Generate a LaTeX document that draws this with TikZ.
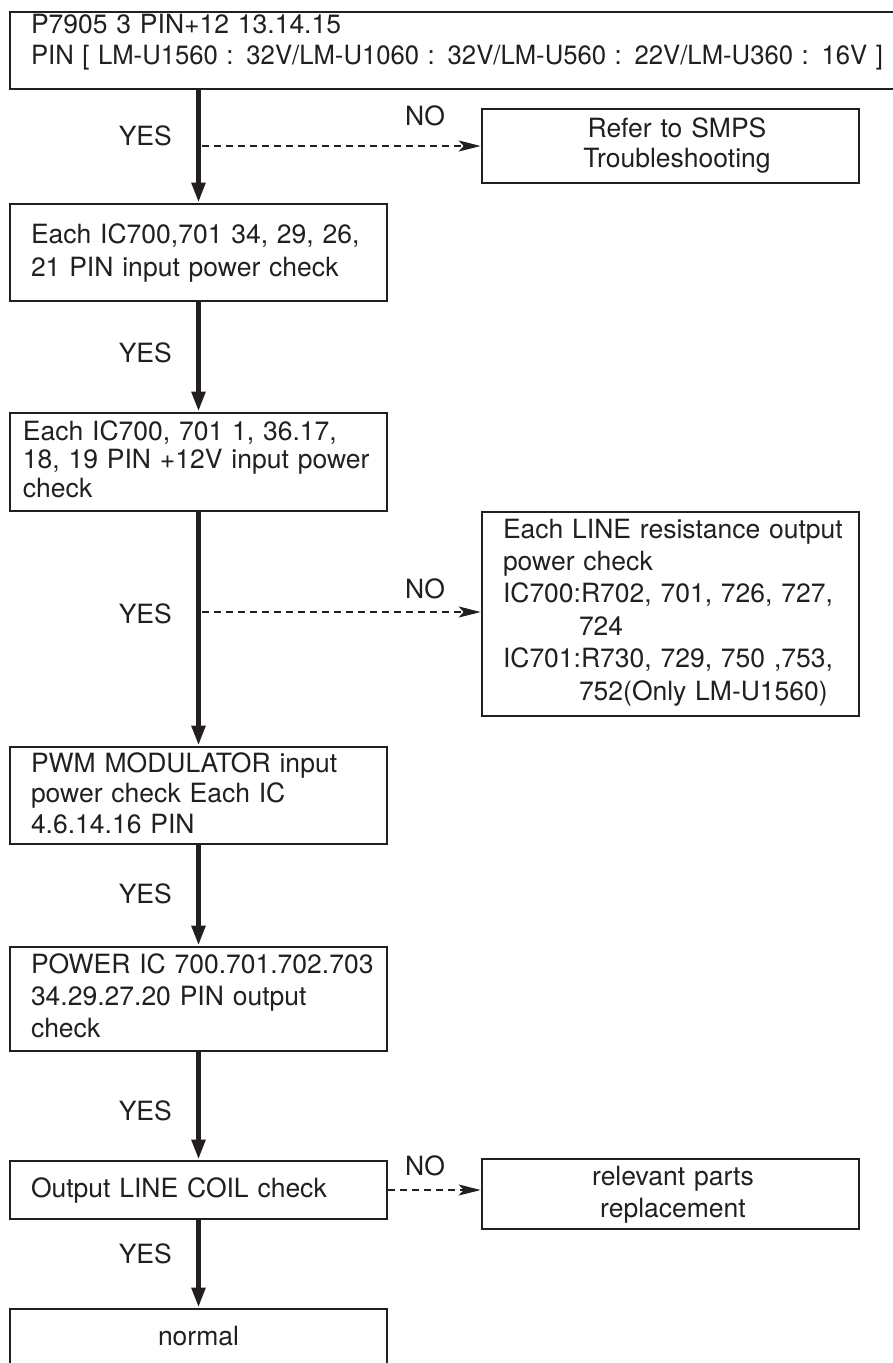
\documentclass[tikz,border=0pt]{standalone}
\usepackage{graphicx}
\usepackage{fontspec}
\setmainfont{TeX Gyre Heros}
\usetikzlibrary{arrows.meta}
\definecolor{ink}{HTML}{231F20}
\newcommand\fsz[1]{\fontsize{26.5}{#1}\selectfont}
\begin{document}
\begin{tikzpicture}[x=1pt,y=-1pt,
  box/.style={draw=ink,line width=2.6pt,inner sep=0pt,rectangle,minimum width=377pt},
  txt/.style={text=ink,inner sep=0pt,outer sep=0pt,anchor=base west,align=left,text width=370pt,font=\fsz{32}},
  ctxt/.style={txt,anchor=base,align=center,text width=360pt},
  lab/.style={text=ink,inner sep=0pt,font=\fsz{32}},
  yes/.style={lab,anchor=base east},
  no/.style={lab,anchor=base west},
  flow/.style={draw=ink,line width=5pt,-{Triangle[length=20pt,width=13pt]}},
  alt/.style={draw=ink,line width=2pt,dash pattern=on 7pt off 5pt,-{Stealth[length=22pt,width=11pt,inset=5pt]}}]
\useasboundingbox (0,0) rectangle (892,1363);

% boxes
\node[box,minimum width=885pt,minimum height=77pt] (b1) at (452.5,50.5) {};
\node[box,minimum height=74pt] (br) at (670.5,146) {};
\node[box,minimum height=97pt] (b2) at (198.5,252.5) {};
\node[box,minimum height=98pt] (b3) at (198.5,462) {};
\node[box,minimum height=204pt] (b4) at (670.5,614) {};
\node[box,minimum height=97pt] (b5) at (198.5,795.5) {};
\node[box,minimum height=104pt] (b6) at (198.5,999) {};
\node[box,minimum height=58pt] (b7) at (198.5,1190) {};
\node[box,minimum height=70pt] (b8) at (670.5,1194) {};
\node[box,minimum height=82pt] (b9) at (198.5,1350) {};

% texts
\node[txt,text width=1000pt,font=\fsz{31}] (t1) at (31,33) {P7905 3 PIN+12 13.14.15\\\resizebox{852pt}{\height}{PIN [ LM-U1560 : 32V/LM-U1060 : 32V/LM-U560 : 22V/LM-U360 : 16V ]}};
\node[ctxt,font=\fsz{30}] (tr) at (677,137) {Refer to SMPS\\Troubleshooting};
\node[txt,font=\fsz{33}] (t2) at (31,243) {Each IC700,701 34, 29, 26,\\21 PIN input power check};
\node[txt,font=\fsz{28.5}] (t3) at (23,440) {Each IC700, 701 1, 36.17,\\18, 19 PIN +12V input power\\check};
\node[txt,text width=350pt,font=\fsz{32.4}] (t4) at (503,538) {Each LINE resistance output\\power check\\IC700:R702, 701, 726, 727,\\\hspace*{76pt}724\\IC701:R730, 729, 750 ,753,\\\hspace*{76pt}752(Only LM-U1560)};
\node[txt,font=\fsz{30.5}] (t5) at (31,772) {PWM MODULATOR input\\power check Each IC\\4.6.14.16 PIN};
\node[txt,font=\fsz{32}] (t6) at (31,973) {POWER IC 700.701.702.703\\34.29.27.20 PIN output\\check};
\node[txt] (t7) at (31,1197) {Output LINE COIL check};
\node[ctxt,font=\fsz{32}] (t8) at (673,1185) {relevant parts\\replacement};
\node[ctxt] (t9) at (198.5,1345) {normal};

% main flow
\draw[flow] (b2.north |- b1.south) -- (b2.north);
\draw[flow] (b2.south) -- (b3.north);
\draw[flow] (b3.south) -- (b5.north);
\draw[flow] (b5.south) -- (b6.north);
\draw[flow] (b6.south) -- (b7.north);
\draw[flow] (b7.south) -- (b9.north);

% NO branches
\coordinate (j1) at (202,146);
\coordinate (j2) at (202,612);
\draw[alt] (j1) -- (br.west);
\draw[alt] (j2) -- (j2 -| b4.west);
\draw[alt] (b7.east) -- (b7.east -| b8.west);

% labels
\node[yes] (y1) at (172,145) {YES};
\node[yes] (y2) at (172,362) {YES};
\node[yes] (y3) at (172,623) {YES};
\node[yes] (y4) at (172,903) {YES};
\node[yes] (y5) at (172,1120) {YES};
\node[yes] (y6) at (172,1263) {YES};
\node[no] (n1) at (405,125) {NO};
\node[no] (n2) at (405,598) {NO};
\node[no] (n3) at (405,1175) {NO};
\end{tikzpicture}
\end{document}
